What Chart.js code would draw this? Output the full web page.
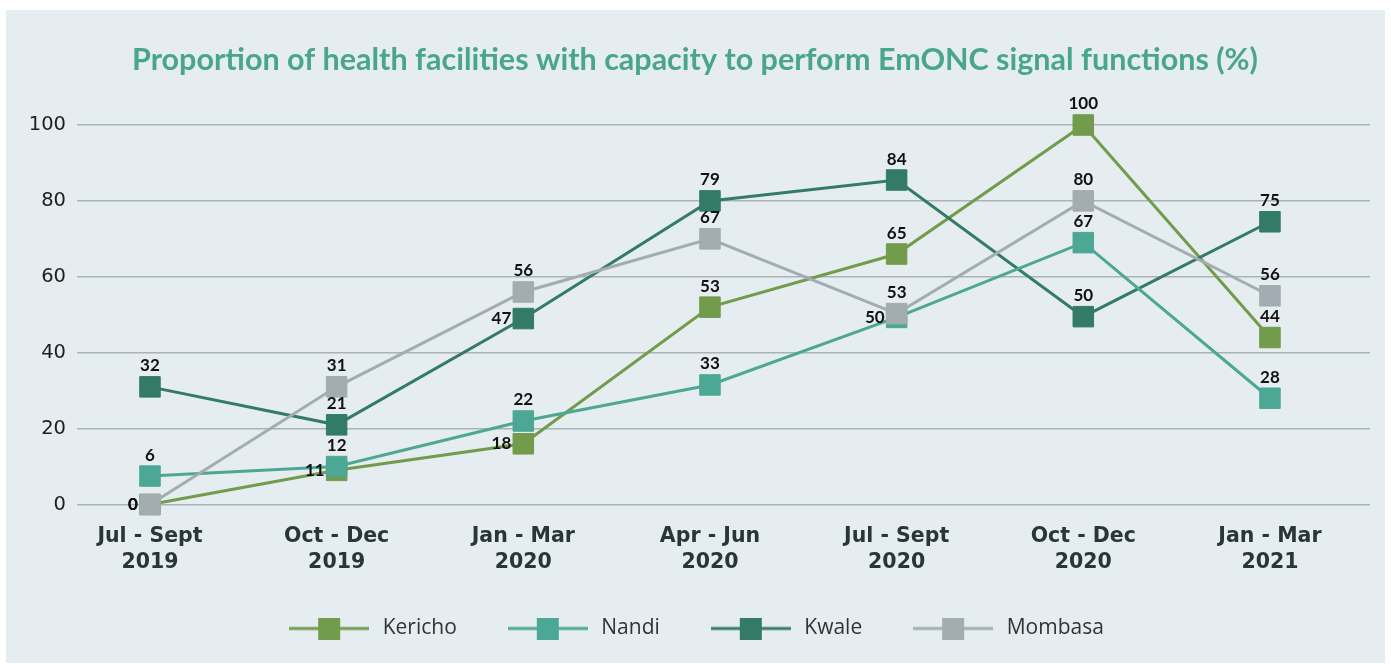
<!doctype html>
<html>

<head>
	<title>EmONC signal functions</title>
	<script src="https://cdn.jsdelivr.net/npm/chart.js@4.4.0/dist/chart.umd.min.js"></script>
	<style>
		body { margin: 0; background: #ffffff; }
		#holder { width: 1391px; height: 664px; }
	</style>
</head>

<body>
	<div id="holder">
		<canvas id="chart-area"></canvas>
	</div>
	<script>
		// quarters on the x axis (two lines each)
		var periods = [
			['Jul - Sept', '2019'],
			['Oct - Dec', '2019'],
			['Jan - Mar', '2020'],
			['Apr - Jun', '2020'],
			['Jul - Sept', '2020'],
			['Oct - Dec', '2020'],
			['Jan - Mar', '2021']
		];

		var counties = ['Kericho', 'Nandi', 'Kwale', 'Mombasa'];

		// plotted values
		var kericho = [0, 9, 16, 52, 66, 100, 44];
		var nandi = [7.5, 10, 22, 31.5, 49.3, 69, 28];
		var kwale = [31, 21, 49, 80, 85.5, 49.5, 74.5];
		var mombasa = [0, 31, 56, 70, 50.3, 80, 55];

		// numbers printed next to the points
		var kerichoLabels = ['0', '11', '18', '53', '65', '100', '44'];
		var nandiLabels = ['6', '12', '22', '33', '50', '67', '28'];
		var kwaleLabels = ['32', '21', '47', '79', '84', '50', '75'];
		var mombasaLabels = ['0', '31', '56', '67', '53', '80', '56'];

		var yTicks = [0, 20, 40, 60, 80, 100];

		var colors = ['#729b4b', '#4da795', '#337b67', '#a3acb1'];
		var series = [kericho, nandi, kwale, mombasa];
		var seriesLabels = [kerichoLabels, nandiLabels, kwaleLabels, mombasaLabels];
		var drawOrder = [3, 1, 2, 0];

		// labels drawn on the left of the marker instead of above
		var leftLabels = { 0: [0, 1, 2], 1: [4], 2: [2], 3: [0] };

		var FONT = 'Lato, "DejaVu Sans", sans-serif';
		var WIDE = '"DejaVu Sans", sans-serif';
		var OPEN = '"Open Sans", Lato, sans-serif';

		function legendMarker(color) {
			var c = document.createElement('canvas');
			c.width = 80;
			c.height = 22;
			var g = c.getContext('2d');
			g.strokeStyle = color;
			g.lineWidth = 3;
			g.beginPath();
			g.moveTo(0, 11);
			g.lineTo(80, 11);
			g.stroke();
			g.fillStyle = color;
			g.fillRect(29, 0, 22, 22);
			return c;
		}
		var markers = colors.map(legendMarker);

		var panelBackground = {
			id: 'panelBackground',
			beforeDraw: function(chart) {
				var ctx = chart.ctx;
				ctx.save();
				ctx.fillStyle = '#e5edf0';
				ctx.fillRect(6, 10, 1379, 653);
				ctx.restore();
			}
		};

		var pointLabels = {
			id: 'pointLabels',
			afterDatasetsDraw: function(chart) {
				var ctx = chart.ctx;
				ctx.save();
				ctx.font = 'bold 17px ' + FONT;
				ctx.fillStyle = '#111111';
				ctx.textBaseline = 'middle';
				chart.data.datasets.forEach(function(ds, d) {
					var meta = chart.getDatasetMeta(d);
					meta.data.forEach(function(pt, i) {
						var text = seriesLabels[d][i];
						if ((leftLabels[d] || []).indexOf(i) >= 0) {
							ctx.textAlign = 'right';
							ctx.fillText(text, pt.x - 12, pt.y);
						} else {
							ctx.textAlign = 'center';
							ctx.fillText(text, pt.x, pt.y - 21);
						}
					});
				});
				ctx.restore();
			}
		};

		var datasets = counties.map(function(name, d) {
			return {
				label: name,
				data: series[d].map(function(v, i) { return { x: i, y: v }; }),
				borderColor: colors[d],
				backgroundColor: colors[d],
				borderWidth: 3,
				pointStyle: 'rect',
				pointRadius: 14.5,
				pointHoverRadius: 14.5,
				pointBorderWidth: 1,
				pointBorderColor: colors[d],
				pointBackgroundColor: colors[d],
				order: drawOrder[d],
				clip: false,
				tension: 0
			};
		});

		var config = {
			type: 'line',
			data: { datasets: datasets },
			options: {
				responsive: true,
				maintainAspectRatio: false,
				animation: false,
				layout: { padding: { left: 20, right: 21, top: 0, bottom: 15 } },
				plugins: {
					title: {
						display: true,
						text: 'Proportion of health facilities with capacity to perform EmONC signal functions (%)',
						color: '#4aa58f',
						font: { family: FONT, size: 30.5, weight: 'bold' },
						padding: { top: 42, bottom: 46.4 }
					},
					legend: {
						position: 'bottom',
						labels: {
							usePointStyle: true,
							pointStyleWidth: 86,
							padding: 48,
							color: '#333333',
							font: { family: OPEN, size: 21 },
							generateLabels: function(chart) {
								return chart.data.datasets.map(function(ds, d) {
									return {
										text: ds.label,
										datasetIndex: d,
										pointStyle: markers[d],
										fillStyle: colors[d],
										strokeStyle: colors[d],
										lineWidth: 0,
										hidden: !chart.isDatasetVisible(d),
										fontColor: '#333333'
									};
								});
							}
						}
					},
					tooltip: { enabled: false }
				},
				scales: {
					x: {
						type: 'linear',
						min: -0.391,
						max: 6.536,
						grid: { display: false, drawTicks: false },
						border: { display: false },
						afterFit: function(scale) { scale.height = 65.5; },
						ticks: {
							stepSize: 1,
							includeBounds: false,
							autoSkip: false,
							maxRotation: 0,
							padding: 19,
							color: '#2b3437',
							font: { family: WIDE, size: 20.5, weight: 'bold', lineHeight: 1.27 },
							callback: function(v) {
								return Number.isInteger(v) && periods[v] ? periods[v] : '';
							}
						}
					},
					y: {
						min: 0,
						max: 100,
						afterFit: function(scale) { scale.width = 57; },
						afterBuildTicks: function(scale) {
							scale.ticks = yTicks.map(function(v) { return { value: v }; });
						},
						grid: { color: '#a9b3b7', lineWidth: 1.6, drawTicks: false },
						border: { display: false },
						ticks: {
							padding: 11,
							color: '#1e1e1e',
							font: { family: WIDE, size: 19.5 }
						}
					}
				}
			},
			plugins: [panelBackground, pointLabels]
		};

		window.onload = function() {
			var ctx = document.getElementById('chart-area').getContext('2d');
			window.myLine = new Chart(ctx, config);
		};
	</script>
</body>

</html>
